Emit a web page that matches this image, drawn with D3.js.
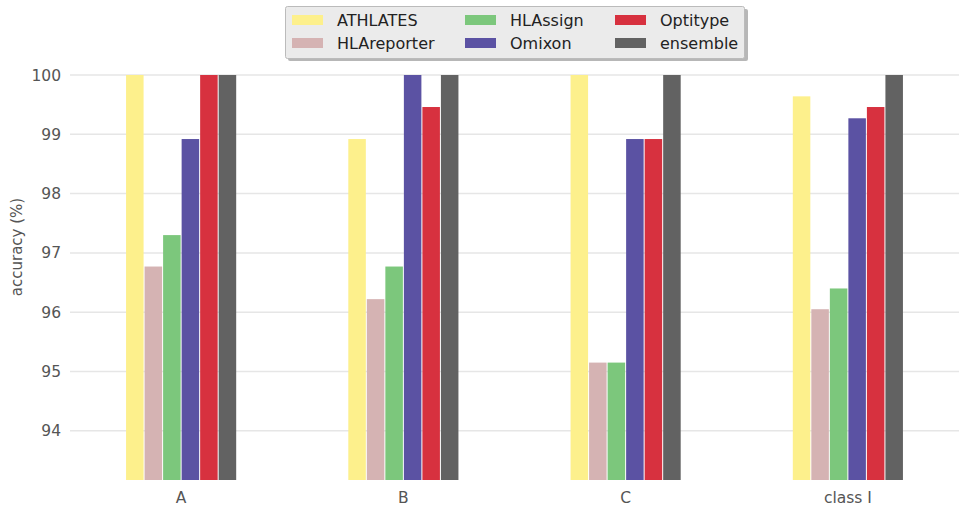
<!DOCTYPE html>
<html>
<head>
<meta charset="utf-8">
<script src="https://cdn.jsdelivr.net/npm/d3@7"></script>
<style>
  body { margin: 0; background: #fff; }
  svg text { font-family: "DejaVu Sans", sans-serif; }
</style>
</head>
<body>
<svg id="main" width="965" height="509"></svg>
<script>
    // data
    const groups = ["A", "B", "C", "class I"]
    const methods = ["ATHLATES", "HLAreporter", "HLAssign", "Omixon", "Optitype", "ensemble"]
    const colors = ["#fdf08c", "#d5b3b3", "#7cc77c", "#5b52a3", "#d7313f", "#626262"]
    const ATHLATES = [100, 98.92, 100, 99.64]
    const HLAreporter = [96.77, 96.22, 95.15, 96.05]
    const HLAssign = [97.30, 96.77, 95.15, 96.40]
    const Omixon = [98.92, 100, 98.92, 99.27]
    const Optitype = [100, 99.46, 98.92, 99.46]
    const ensemble = [100, 100, 100, 100]
    const yTicks = [94, 95, 96, 97, 98, 99, 100]

    const series = [ATHLATES, HLAreporter, HLAssign, Omixon, Optitype, ensemble]
    const yMin = 93.17

    let svg = d3.select('svg#main')

    const x0 = d3.scaleBand()
        .domain(groups)
        .range([70, 959])
        .paddingInner(0.5)
        .paddingOuter(0.25)
    const x1 = d3.scaleBand()
        .domain(methods)
        .range([0, x0.bandwidth()])
    const y = d3.scaleLinear()
        .domain([yMin, 100])
        .range([480, 75])

    // grid
    svg.append("g")
        .selectAll("line")
        .data(yTicks)
        .enter()
        .append("line")
        .attr("x1", 70)
        .attr("x2", 959)
        .attr("y1", d => y(d))
        .attr("y2", d => y(d))
        .style("stroke", "#e6e6e6")
        .style("stroke-width", "1.5px")

    // y tick labels
    svg.append("g")
        .selectAll("text")
        .data(yTicks)
        .enter()
        .append("text")
        .attr("x", 61)
        .attr("y", d => y(d))
        .attr("dy", "0.36em")
        .attr("text-anchor", "end")
        .style("font-size", "15.5px")
        .style("fill", "#555")
        .text(d => d)

    // bars
    const g = svg.append("g")
        .selectAll("g")
        .data(groups)
        .enter()
        .append("g")
        .attr("transform", d => `translate(${x0(d)},0)`)

    g.selectAll("rect")
        .data((d, gi) => methods.map((m, i) => ({m: m, v: series[i][gi], c: colors[i]})))
        .enter()
        .append("rect")
        .attr("x", d => x1(d.m) + 0.5)
        .attr("width", x1.bandwidth() - 1)
        .attr("y", d => y(d.v))
        .attr("height", d => y(yMin) - y(d.v))
        .attr("fill", d => d.c)

    // x labels
    svg.append("g")
        .selectAll("text")
        .data(groups)
        .enter()
        .append("text")
        .attr("x", d => x0(d) + x0.bandwidth() / 2)
        .attr("y", 503)
        .attr("text-anchor", "middle")
        .style("font-size", "15.5px")
        .style("fill", "#555")
        .text(d => d)

    // Y axis label
    svg.append("text")
        .attr("text-anchor", "middle")
        .attr("transform", "translate(22,247) rotate(-90)")
        .style("font-size", "15px")
        .style("fill", "#555")
        .text("accuracy (%)")

    // legend
    const lg = svg.append("g").attr("class", "legend")
    lg.append("rect")
        .attr("x", 288).attr("y", 9)
        .attr("width", 460).attr("height", 52)
        .attr("rx", 2)
        .attr("fill", "#999")
        .attr("opacity", 0.7)
    lg.append("rect")
        .attr("x", 285.5).attr("y", 6.5)
        .attr("width", 459).attr("height", 52)
        .attr("rx", 2)
        .attr("fill", "#ebebeb")
        .attr("stroke", "#bbb")

    const colX = [292, 465, 615]
    const item = lg.selectAll("g.item")
        .data(methods)
        .enter()
        .append("g")
        .attr("class", "item")
        .attr("transform", (d, i) => `translate(${colX[Math.floor(i / 2)]},${i % 2 ? 43 : 20})`)
    item.append("rect")
        .attr("x", 0).attr("y", -5)
        .attr("width", 31).attr("height", 10)
        .attr("fill", (d, i) => colors[i])
    item.append("text")
        .attr("x", 45)
        .attr("dy", "0.36em")
        .style("font-size", "16px")
        .style("fill", "#222")
        .text(d => d)
</script>
</body>
</html>
